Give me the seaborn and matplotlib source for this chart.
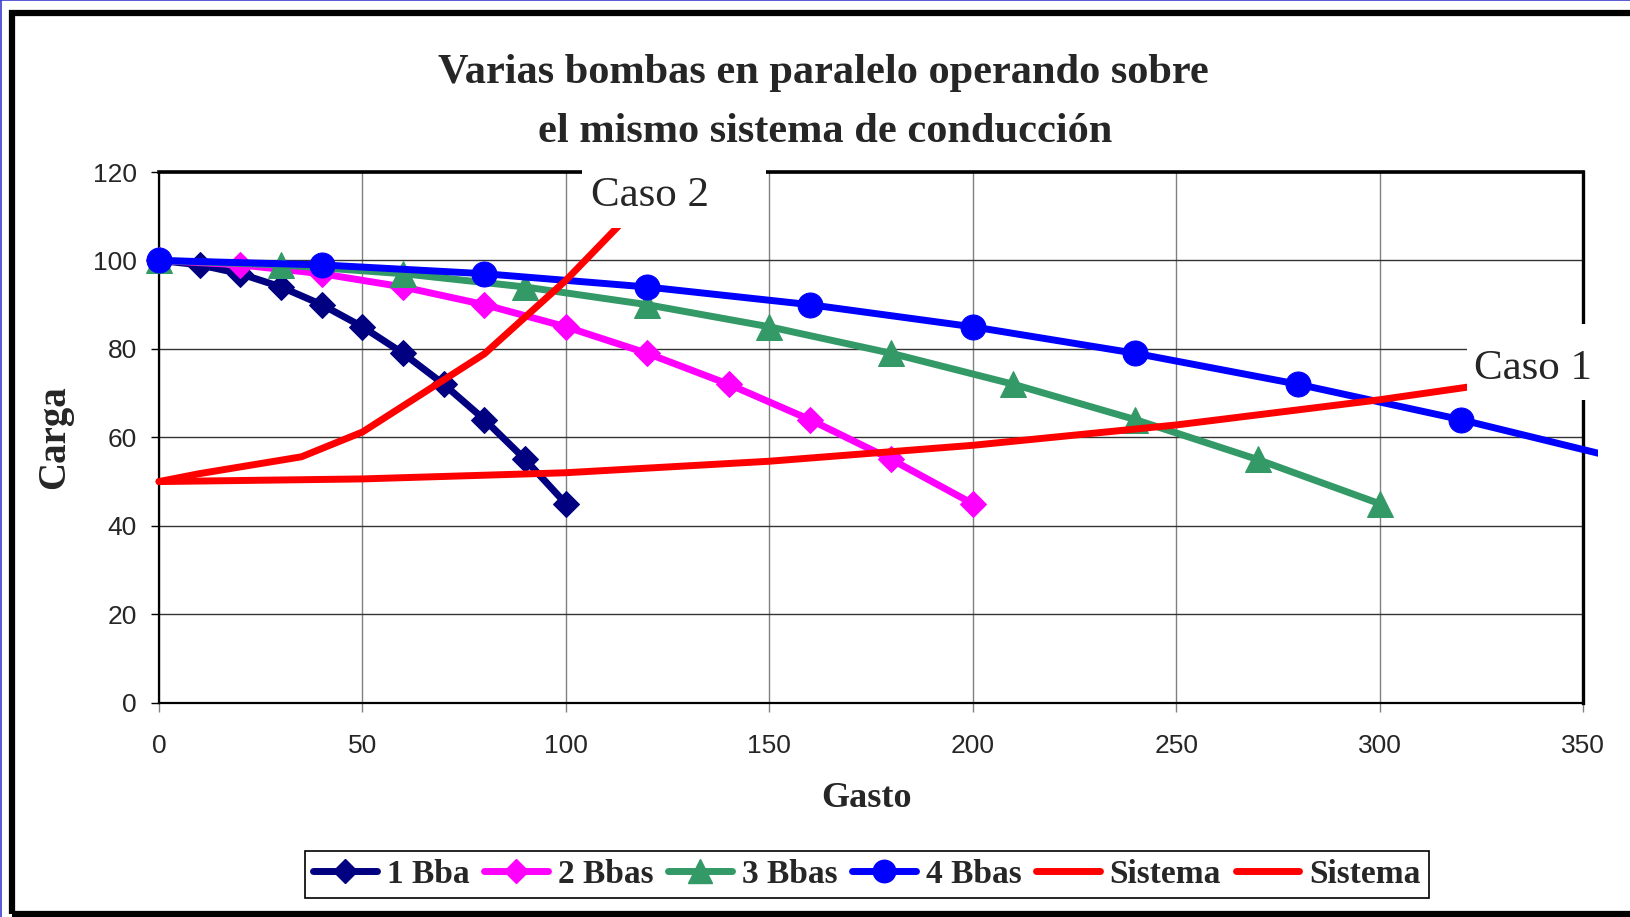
import matplotlib
matplotlib.use('Agg')
import matplotlib.pyplot as plt
import seaborn as sns
from matplotlib.lines import Line2D
from matplotlib.patches import Rectangle
from matplotlib.font_manager import FontProperties

# curvas de las bombas (gasto, carga)
gasto_1 = [0, 10, 20, 30, 40, 50, 60, 70, 80, 90, 100]
carga_1 = [100, 99, 97, 94, 90, 85, 79, 72, 64, 55, 45]
gasto_2 = [0, 20, 40, 60, 80, 100, 120, 140, 160, 180, 200]
carga_2 = [100, 99, 97, 94, 90, 85, 79, 72, 64, 55, 45]
gasto_3 = [0, 30, 60, 90, 120, 150, 180, 210, 240, 270, 300]
carga_3 = [100, 99, 97, 94, 90, 85, 79, 72, 64, 55, 45]
gasto_4 = [0, 40, 80, 120, 160, 200, 240, 280, 320, 360, 400]
carga_4 = [100, 99, 97, 94, 90, 85, 79, 72, 64, 55, 45]

# curvas del sistema
gasto_caso1 = [0, 50, 100, 150, 200, 250, 300, 350]
carga_caso1 = [50, 50.6, 52, 54.6, 58.2, 62.8, 68.5, 75.1]
gasto_caso2 = [0, 10, 35, 50, 80, 100, 120]
carga_caso2 = [50, 51.8, 55.6, 61.2, 78.9, 95.5, 114.5]

labels = ['1 Bba', '2 Bbas', '3 Bbas', '4 Bbas', 'Sistema', 'Sistema']
colors = ['#000080', '#FF00FF', '#339966', '#0000FF', '#FF0000', '#FF0000']
markers = ['D', 'D', '^', 'o', None, None]
msizes = [13.5, 13.5, 19, 18, 0, 0]

sns.set_style('white')
plt.rcParams['font.family'] = ['Liberation Sans', 'DejaVu Sans']

fig = plt.figure(figsize=(16.3, 9.17), dpi=100)
ax = fig.add_axes([159 / 1630, 0.2337, 1424 / 1630, 0.57873])

data = [(gasto_1, carga_1), (gasto_2, carga_2), (gasto_3, carga_3),
        (gasto_4, carga_4), (gasto_caso1, carga_caso1), (gasto_caso2, carga_caso2)]

clip = Rectangle((-0.05, -0.05), 1.0605, 1.15, transform=ax.transAxes)
for (gx, gy), lab, col, mk, ms in zip(data, labels, colors, markers, msizes):
    kw = dict(marker=mk, markersize=ms, markeredgecolor=col, markerfacecolor=col) if mk else {}
    sns.lineplot(x=gx, y=gy, ax=ax, color=col, linewidth=5, sort=False,
                 estimator=None, zorder=3, **kw)
    ln = ax.lines[-1]
    ln.set_clip_path(clip)

ax.set_xlim(0, 350)
ax.set_ylim(0, 120)
ax.set_xticks(range(0, 351, 50))
ax.set_yticks(range(0, 121, 20))
ax.set_xlabel('')
ax.set_ylabel('')

ax.yaxis.grid(True, color='#333333', linewidth=1)
ax.xaxis.grid(True, color='#808080', linewidth=1)
ax.set_axisbelow(True)

for side, lw in [('left', 1.6), ('bottom', 1.6), ('top', 2.6), ('right', 2.4)]:
    ax.spines[side].set_visible(True)
    ax.spines[side].set_color('black')
    ax.spines[side].set_linewidth(lw)

ax.tick_params(axis='y', direction='out', length=6, width=1, color='black',
               pad=10, labelsize=19, left=True)
ax.tick_params(axis='x', direction='out', length=6.5, width=1, color='#808080',
               pad=16, labelsize=19, bottom=True)

serif = 'Liberation Serif'

# recuadros de texto
ax.add_patch(Rectangle((103.9, 107.3), 45.3, 17.2, facecolor='white', edgecolor='none',
                       zorder=5, clip_on=False))
ax.text(120.7, 112.2, 'Caso 2', ha='center', va='baseline', fontsize=31,
        family=serif, zorder=6, clip_on=False)
ax.add_patch(Rectangle((321.4, 68.5), 40, 17.1, facecolor='white', edgecolor='none',
                       zorder=5, clip_on=False))
ax.text(337.6, 73.3, 'Caso 1', ha='center', va='baseline', fontsize=31,
        family=serif, zorder=6, clip_on=False)

fig.text(823 / 1630, 1 - 83 / 917, 'Varias bombas en paralelo operando sobre',
         ha='center', va='baseline', fontsize=30.5, fontweight='bold', family=serif)
fig.text(825 / 1630, 1 - 142 / 917, 'el mismo sistema de conducción',
         ha='center', va='baseline', fontsize=30.5, fontweight='bold', family=serif)
fig.text(866 / 1630, 1 - 807 / 917, 'Gasto', ha='center', va='baseline',
         fontsize=26, fontweight='bold', family=serif)
fig.text(55 / 1630, 1 - 437 / 917, 'Carga', ha='center', va='center', rotation=90,
         fontsize=28, fontweight='bold', family=serif)

handles = []
for col, mk, ms in zip(colors, markers, msizes):
    if mk:
        handles.append(Line2D([], [], color=col, lw=5, marker=mk, markersize=ms * 0.9,
                              markeredgecolor=col, markerfacecolor=col))
    else:
        handles.append(Line2D([], [], color=col, lw=5))
leg = fig.legend(handles, labels, loc='center', bbox_to_anchor=(867 / 1630, 1 - 874.6 / 917),
                 ncol=6, frameon=True, fancybox=False, edgecolor='black', framealpha=1,
                 prop=FontProperties(family=serif, weight='bold', size=24),
                 handlelength=1.9, handletextpad=0.3, columnspacing=0.45,
                 borderpad=0.25, borderaxespad=0)
leg.get_frame().set_linewidth(1.2)

# marco exterior
fig.add_artist(Rectangle((12 / 1630, 3 / 917), 1.0, 1 - 16 / 917, fill=False,
                         edgecolor='black', linewidth=4.5, transform=fig.transFigure))
fig.add_artist(Line2D([0, 1], [0.9995, 0.9995], color='#3c3cd0', lw=1.2,
                      transform=fig.transFigure))
fig.add_artist(Line2D([0.0004, 0.0004], [0, 1], color='#3c3cd0', lw=1.2,
                      transform=fig.transFigure))

fig.savefig('out.png', dpi=100)
